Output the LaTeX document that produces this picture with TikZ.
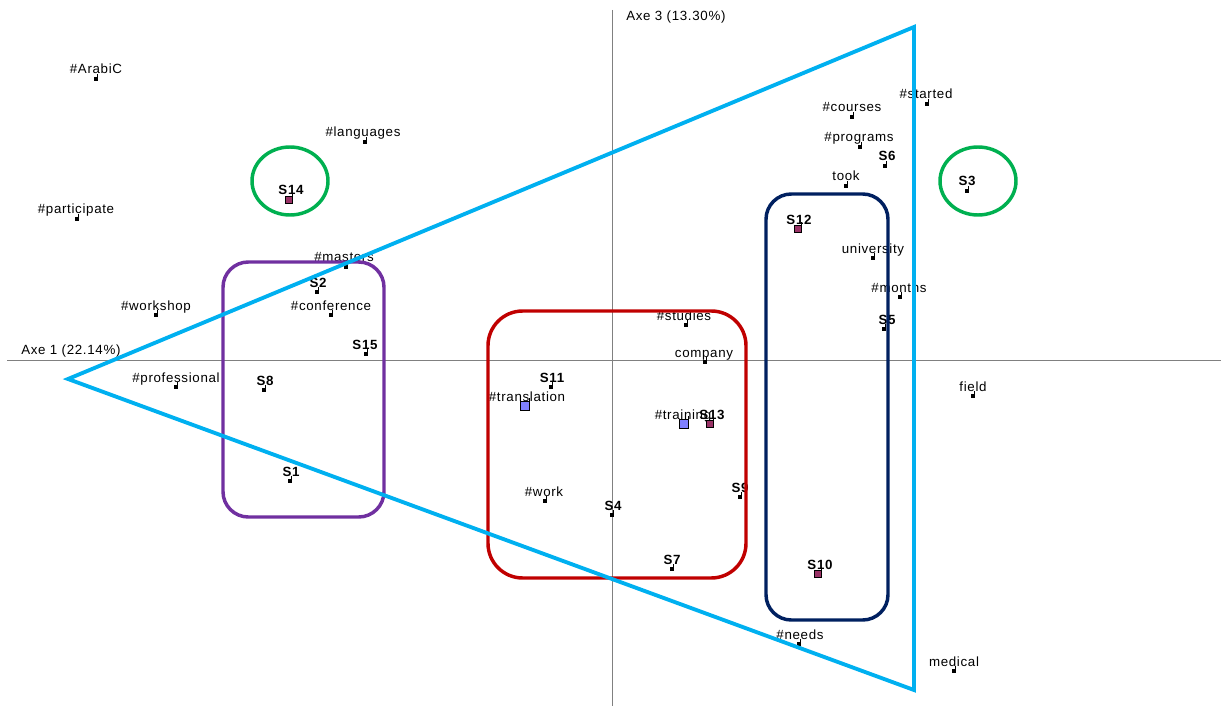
\documentclass[tikz,border=0pt]{standalone}
\usepackage{fontspec}
\setmainfont{Liberation Sans}[LetterSpace=5]
\definecolor{axisgray}{RGB}{128,128,128}
\definecolor{tricyan}{RGB}{0,176,240}
\definecolor{grpgreen}{RGB}{0,176,80}
\definecolor{grppurple}{RGB}{112,48,160}
\definecolor{grpred}{RGB}{192,0,0}
\definecolor{grpnavy}{RGB}{0,32,96}
\definecolor{mkpurple}{RGB}{153,51,102}
\definecolor{mkblue}{RGB}{128,128,255}
\tikzset{
  every node/.style={inner sep=0pt, font=\fontsize{10}{11}\selectfont},
  axisline/.style={draw=axisgray, line width=0.75pt},
  mk/.style={rectangle, draw=black, fill=black, minimum size=2pt, line width=0.3pt},
  mkp/.style={rectangle, draw=black, fill=mkpurple, minimum size=5pt, line width=0.5pt},
  mkb/.style={rectangle, draw=black, fill=mkblue, minimum size=6.5pt, line width=0.5pt},
  tick/.style={draw=black, line width=0.5pt},
  wd/.style={},
  sb/.style={font=\fontsize{10}{11}\selectfont\bfseries},
  grp/.style={line width=2.6pt},
  trip/.style={line width=2.9pt},
}
\newcommand\pnt[7]{%
  \node[#2] (#1) at (#3,#4) {};
  \draw[tick] (#1.north east) -- ++(0,-3);
  \node[#7, anchor=base] (#1l) at (#5,#4-5) {#6};
}
\begin{document}
\begin{tikzpicture}[x=0.75pt,y=-0.75pt]
\useasboundingbox (0,0) rectangle (1221,706);
% axes
\coordinate (xa) at (7,360);
\coordinate (xb) at (1221,360);
\coordinate (ya) at (612,10);
\coordinate (yb) at (612,706);
\draw[axisline] (xa) -- (xb);
\draw[axisline] (ya) -- (yb);
\node[anchor=base west] (ax1) at (21,354) {Axe 1 (22.14\%)};
\node[anchor=base west] (ax3) at (626,21) {Axe 3 (13.30\%)};
% points
\pnt{arabic}{mk}{96}{79}{96}{\#ArabiC}{wd}
\pnt{languages}{mk}{365}{142}{363}{\#languages}{wd}
\pnt{sxiv}{mkp}{289}{200}{291}{S14}{sb}
\pnt{participate}{mk}{77}{219}{76}{\#participate}{wd}
\pnt{masters}{mk}{346}{267}{344}{\#masters}{wd}
\pnt{sii}{mk}{317}{292}{318}{S2}{sb}
\pnt{workshop}{mk}{156}{315}{156}{\#workshop}{wd}
\pnt{conference}{mk}{331}{315}{331}{\#conference}{wd}
\pnt{sxv}{mk}{366}{354}{365}{S15}{sb}
\pnt{professional}{mk}{176}{387}{176}{\#professional}{wd}
\pnt{sviii}{mk}{264}{390}{265}{S8}{sb}
\pnt{si}{mk}{290}{481}{291}{S1}{sb}
\pnt{sxi}{mk}{551}{387}{552}{S11}{sb}
\pnt{translation}{mkb}{525}{406}{527}{\#translation}{wd}
\pnt{studies}{mk}{686}{325}{684}{\#studies}{wd}
\pnt{company}{mk}{705}{362}{704}{company}{wd}
\pnt{training}{mkb}{684}{424}{683}{\#training}{wd}
\pnt{sxiii}{mkp}{710}{424}{712}{S13}{sb}
\pnt{work}{mk}{545}{501}{544}{\#work}{wd}
\pnt{siv}{mk}{612}{515}{613}{S4}{sb}
\pnt{six}{mk}{740}{497}{740}{S9}{sb}
\pnt{svii}{mk}{672}{569}{672}{S7}{sb}
\pnt{sx}{mkp}{818}{574}{820}{S10}{sb}
\pnt{needs}{mk}{799}{644}{800}{\#needs}{wd}
\pnt{medical}{mk}{954}{671}{954}{medical}{wd}
\pnt{field}{mk}{973}{396}{973}{field}{wd}
\pnt{started}{mk}{927}{104}{926}{\#started}{wd}
\pnt{courses}{mk}{852}{117}{852}{\#courses}{wd}
\pnt{programs}{mk}{860}{147}{859}{\#programs}{wd}
\pnt{svi}{mk}{885}{166}{887}{S6}{sb}
\pnt{took}{mk}{846}{186}{846}{took}{wd}
\pnt{siii}{mk}{967}{191}{967}{S3}{sb}
\pnt{sxii}{mkp}{798}{229}{799}{S12}{sb}
\pnt{university}{mk}{873}{258}{873}{university}{wd}
\pnt{months}{mk}{900}{297}{899}{\#months}{wd}
\pnt{sv}{mk}{884}{329}{887}{S5}{sb}
% groups
\draw[grp, draw=grpgreen] (290,181) ellipse [x radius=28.5pt, y radius=25.5pt];
\draw[grp, draw=grpgreen] (978,181) ellipse [x radius=28.5pt, y radius=25.5pt];
\draw[grp, draw=grppurple, rounded corners=19pt] (223,262) rectangle (384,517);
\draw[grp, draw=grpred, rounded corners=26pt] (488,311) rectangle (746,578);
\draw[grp, draw=grpnavy, rounded corners=19pt] (766,194) rectangle (888,620);
% triangle
\coordinate (ta) at (68,379);
\coordinate (tb) at (914,27);
\coordinate (tc) at (914,690);
\draw[trip, draw=tricyan] (ta) -- (tb) -- (tc) -- cycle;
\end{tikzpicture}
\end{document}
